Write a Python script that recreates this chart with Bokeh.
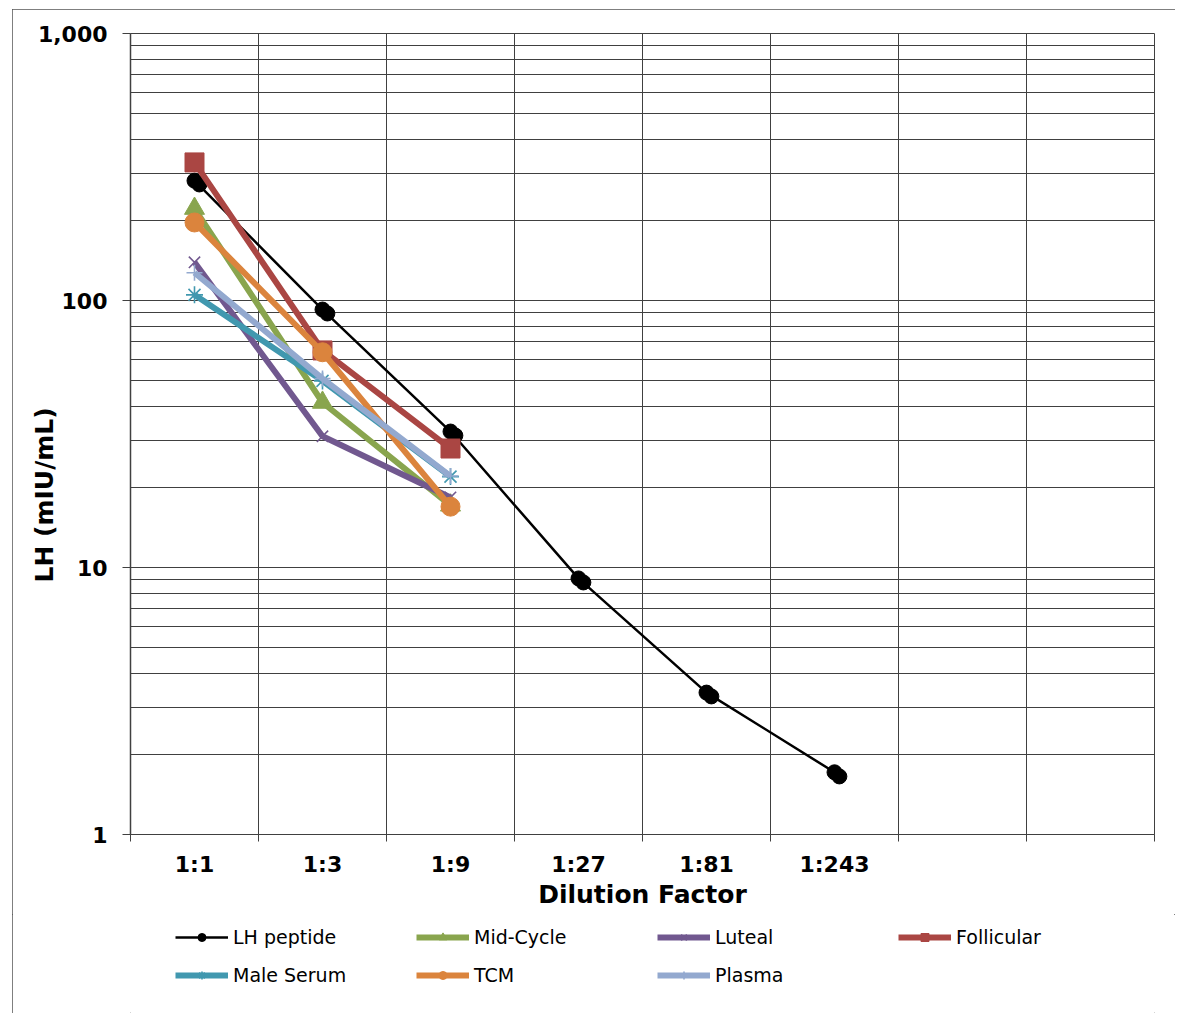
from bokeh.plotting import figure
from bokeh.layouts import column
from bokeh.models import (Range1d, FixedTicker, NumeralTickFormatter, Legend, LegendItem)
from bokeh.transform import dodge
from bokeh.embed import file_html
from bokeh.resources import INLINE

# ---------------- data ----------------
dilutions = ["1:1", "1:3", "1:9", "1:27", "1:81", "1:243"]
n_slots = 8  # category slots on the axis (last two are empty)

lh_peptide = [281, 92.5, 32.3, 9.1, 3.40, 1.71]        # first replicate marker
lh_peptide_rep = [272, 89.4, 31.2, 8.79, 3.29, 1.65]   # second replicate marker
mid_cycle = [221, 41.5, 17.1]
luteal = [139, 31.0, 18.3]
follicular = [329, 65, 27.9]
male_serum = [105, 50, 21.9]
tcm = [196, 64, 16.9]
plasma = [127, 51, 22.0]

y_major = [1, 10, 100, 1000]

# ---------------- layout geometry ----------------
FONT = "DejaVu Sans"
frame_left, frame_top, frame_right, frame_bottom = 130, 33, 1154, 834
fig_x, fig_y, fig_w = 12, 9, 1163
main_h = 905            # main chart: frame + axes
leg_h = 99              # legend strip below it

p = figure(width=fig_w, height=main_h, x_range=Range1d(0, n_slots), y_range=Range1d(1, 1000),
           y_axis_type="log", output_backend="svg", toolbar_location=None,
           min_border_left=frame_left - fig_x, min_border_right=fig_x + fig_w - frame_right,
           min_border_top=frame_top - fig_y, min_border_bottom=fig_y + main_h - frame_bottom)
p.background_fill_color = "white"
p.border_fill_color = "white"
p.outline_line_color = "#404040"
p.outline_line_width = 1

x_centers = [i + 0.5 for i in range(len(dilutions))]

# x axis: labels at centers, tick marks at slot boundaries
p.xaxis.ticker = FixedTicker(ticks=x_centers, minor_ticks=list(range(n_slots + 1)))
p.xaxis.major_label_overrides = {xc: lab for xc, lab in zip(x_centers, dilutions)}
p.xaxis.major_tick_line_color = None
p.xaxis.major_tick_out = 0
p.xaxis.major_tick_in = 0
p.xaxis.minor_tick_in = 0
p.xaxis.minor_tick_out = 7
p.xaxis.minor_tick_line_color = "#404040"
p.xaxis.axis_line_color = "#404040"
p.xaxis.major_label_standoff = 10
p.xaxis.major_label_text_font = FONT
p.xaxis.major_label_text_font_style = "bold"
p.xaxis.major_label_text_font_size = "22px"
p.xaxis.major_label_text_color = "black"
p.xaxis.axis_label = "Dilution Factor"
p.xaxis.axis_label_text_font = FONT
p.xaxis.axis_label_text_font_style = "bold"
p.xaxis.axis_label_text_font_size = "25px"
p.xaxis.axis_label_text_color = "black"
p.xaxis.axis_label_standoff = 0

# y axis (log)
minor = [m * d for d in (1, 10, 100) for m in range(2, 10)]
p.yaxis.ticker = FixedTicker(ticks=y_major, minor_ticks=minor)
p.yaxis.formatter = NumeralTickFormatter(format="0,0")
p.yaxis.major_tick_out = 8
p.yaxis.major_tick_in = 0
p.yaxis.minor_tick_line_color = None
p.yaxis.major_tick_line_color = "#404040"
p.yaxis.axis_line_color = "#404040"
p.yaxis.axis_line_width = 1.5
p.yaxis.major_label_standoff = 15
p.yaxis.major_label_text_font = FONT
p.yaxis.major_label_text_font_style = "bold"
p.yaxis.major_label_text_font_size = "22px"
p.yaxis.major_label_text_color = "black"
# trailing no-break spaces shift the title down the axis, as in the original
p.yaxis.axis_label = "LH (mIU/mL)" + "\u00a0" * 14
p.yaxis.axis_label_text_font = FONT
p.yaxis.axis_label_text_font_style = "bold"
p.yaxis.axis_label_text_font_size = "25px"
p.yaxis.axis_label_text_color = "black"
p.yaxis.axis_label_standoff = -24

# grids
p.xgrid.grid_line_color = None
p.xgrid.minor_grid_line_color = "#404040"
p.xgrid.minor_grid_line_width = 1
p.ygrid.grid_line_color = "#404040"
p.ygrid.minor_grid_line_color = "#404040"
p.ygrid.minor_grid_line_width = 1

# legend strip (same series drawn outside its visible range, only to feed the legend)
leg = figure(width=fig_w, height=leg_h, x_range=Range1d(-20, -19), y_range=Range1d(1, 1000),
             y_axis_type="log", output_backend="svg", toolbar_location=None,
             min_border=0, min_border_left=0, min_border_right=0, min_border_top=0,
             min_border_bottom=0)
leg.axis.visible = False
leg.grid.visible = False
leg.outline_line_color = None
leg.background_fill_color = "white"
leg.border_fill_color = "white"

# ---------------- series ----------------
xs = x_centers[:len(lh_peptide)]
p.line(xs, lh_peptide, line_color="black", line_width=2.5)
p.scatter(xs, lh_peptide, marker="circle", size=15, fill_color="black", line_color="black")
src_rep = {"x": xs, "y": lh_peptide_rep}
p.scatter(x=dodge("x", 0.038, range=p.x_range), y="y", source=src_rep, marker="circle",
          size=15, fill_color="black", line_color="black")

items = []
ll = leg.line(xs, lh_peptide, line_color="black", line_width=2.5)
ls = leg.scatter(xs, lh_peptide, marker="circle", size=15, fill_color="black", line_color="black")
items.append(LegendItem(label="LH peptide", renderers=[ll, ls]))

series = [
    ("Mid-Cycle", mid_cycle, "#89A54E", "triangle", 20, 1.0, True),
    ("Luteal", luteal, "#71588F", "x", 16, 1.6, False),
    ("Follicular", follicular, "#AA4643", "square", 19, 1.0, True),
    ("Male Serum", male_serum, "#4198AF", "asterisk", 17, 1.6, False),
    ("TCM", tcm, "#DB843D", "circle", 19, 1.0, True),
    ("Plasma", plasma, "#93A9CF", "cross", 16, 1.6, False),
]
for name, vals, color, marker, size, mlw, filled in series:
    xx = x_centers[:len(vals)]
    for fig in (p, leg):
        l = fig.line(xx, vals, line_color=color, line_width=6)
        s = fig.scatter(xx, vals, marker=marker, size=size, line_color=color, line_width=mlw,
                        fill_color=color if filled else None)
    items.append(LegendItem(label=name, renderers=[l, s]))

# the legend strip's frame is aligned with the main frame by the column layout
legend = Legend(items=items, orientation="horizontal", ncols=4,
                location=(175 - frame_left, 27), padding=0, margin=0,
                glyph_width=53, glyph_height=20, label_height=20, label_width=167,
                label_standoff=5, spacing=16,
                label_text_font=FONT, label_text_font_size="19px", label_text_color="black",
                border_line_color=None, background_fill_alpha=0)
leg.add_layout(legend, "center")

layout = column(p, leg, spacing=0, margin=(fig_y, 0, 0, fig_x),
                styles={"outline": "1px solid #555555", "outline-offset": "-1px"})

open("out.html", "w").write(file_html(layout, INLINE))
